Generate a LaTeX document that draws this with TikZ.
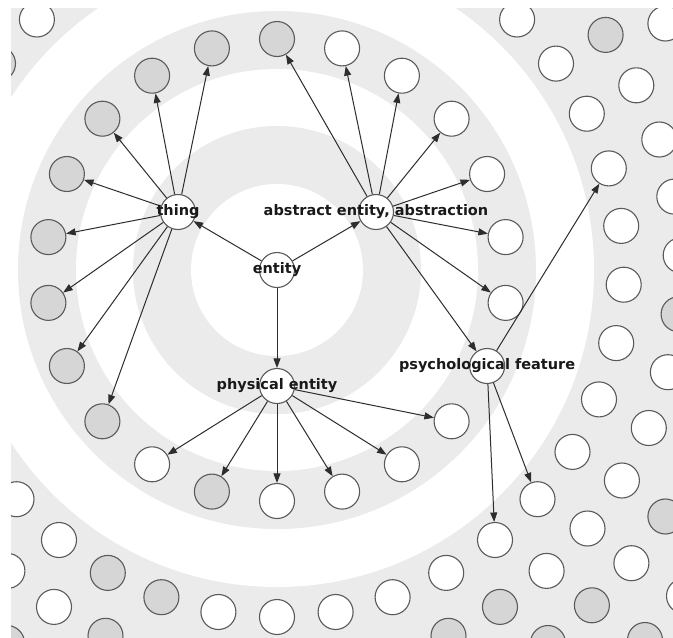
\documentclass[tikz,border=0pt]{standalone}
\usepackage{fontspec}
\setmainfont{DejaVu Sans}
\usetikzlibrary{arrows.meta}
\definecolor{ringgray}{RGB}{235,235,235}
\definecolor{nodegray}{RGB}{214,214,214}
\definecolor{nodeline}{RGB}{90,90,90}
\definecolor{edgeline}{RGB}{45,45,45}
\definecolor{labeltext}{RGB}{25,25,25}
\begin{document}
\begin{tikzpicture}[x=1pt,y=-1pt,
  leaf/.style={circle,draw=nodeline,line width=1.1pt,minimum size=35pt,inner sep=0pt},
  wn/.style={leaf,fill=white},
  gn/.style={leaf,fill=nodegray},
  edge/.style={draw=edgeline,line width=1pt,-{Triangle[length=9.5pt,width=7pt]}},
  lbl/.style={font=\bfseries\fontsize{14.5}{16}\selectfont,text=labeltext,inner sep=0pt}]
\useasboundingbox (0,0) rectangle (673,638);
\begin{scope}
\clip (11,8) rectangle (673,638);
% background rings
\fill[ringgray] (11,8) rectangle (673,638);
\fill[white] (277,270) circle[radius=317];
\fill[ringgray] (277,270) circle[radius=259];
\fill[white] (277,270) circle[radius=201];
\fill[ringgray] (277,270) circle[radius=144];
\fill[white] (277,270) circle[radius=86];
% depth 0 and 1
\node[wn] (entity) at (277,270) {};
\node[wn] (thing) at (178,212) {};
\node[wn] (abstract) at (376,212) {};
\node[wn] (physical) at (277,386) {};
% depth 2
\node[gn] (d0) at (277,39) {};
\node[wn] (d1) at (342.1,48.4) {};
\node[wn] (d2) at (401.9,75.7) {};
\node[wn] (d3) at (451.6,118.7) {};
\node[wn] (d4) at (487.1,174.0) {};
\node[wn] (d5) at (505.6,237.1) {};
\node[wn] (d6) at (505.6,302.9) {};
\node[wn] (psych) at (487.1,366.0) {};
\node[wn] (d8) at (451.6,421.3) {};
\node[wn] (d9) at (401.9,464.3) {};
\node[wn] (d10) at (342.1,491.6) {};
\node[wn] (d11) at (277,501) {};
\node[gn] (d12) at (211.9,491.6) {};
\node[wn] (d13) at (152.1,464.3) {};
\node[gn] (d14) at (102.4,421.3) {};
\node[gn] (d15) at (66.9,366.0) {};
\node[gn] (d16) at (48.4,302.9) {};
\node[gn] (d17) at (48.4,237.1) {};
\node[gn] (d18) at (66.9,174.0) {};
\node[gn] (d19) at (102.4,118.7) {};
\node[gn] (d20) at (152.1,75.7) {};
\node[gn] (d21) at (211.9,48.4) {};
% ring 3
\node[wn] (am5) at (16.5,499.2) {};
\node[wn] (am4) at (59.0,540.0) {};
\node[gn] (am3) at (107.8,572.9) {};
\node[gn] (am2) at (161.4,597.2) {};
\node[wn] (am1) at (218.4,612.0) {};
\node[wn] (a0) at (277,617) {};
\node[wn] (a1) at (335.6,612.0) {};
\node[wn] (a2) at (392.6,597.2) {};
\node[wn] (a3) at (446.2,572.9) {};
\node[wn] (a4) at (495.0,540.0) {};
\node[wn] (a5) at (537.5,499.2) {};
\node[wn] (a6) at (572.5,451.9) {};
\node[wn] (a7) at (599.0,399.4) {};
\node[wn] (a8) at (616.2,343.1) {};
\node[wn] (a9) at (623.7,284.7) {};
\node[wn] (a10) at (621.2,225.9) {};
\node[wn] (a11) at (608.8,168.4) {};
\node[wn] (a12) at (586.8,113.7) {};
\node[wn] (a13) at (556.0,63.6) {};
\node[wn] (a14) at (517.1,19.5) {};
\node[wn] (a23) at (36.9,19.5) {};
\node[gn] (a24) at (-2.0,63.6) {};
% ring 4
\node[gn] (b15) at (605.6,34.9) {};
\node[wn] (b14) at (636.3,85.3) {};
\node[wn] (b13) at (659.3,139.5) {};
\node[wn] (b12) at (674.3,196.6) {};
\node[wn] (b11) at (680.7,255.3) {};
\node[gn] (b10) at (678.6,314.2) {};
\node[wn] (b9) at (667.9,372.2) {};
\node[wn] (b8) at (648.8,428.0) {};
\node[wn] (b7) at (621.9,480.5) {};
\node[wn] (b6) at (587.5,528.5) {};
\node[wn] (b5) at (546.6,570.9) {};
\node[gn] (b4) at (500.0,606.9) {};
\node[gn] (b3) at (448.5,635.8) {};
\node[gn] (bm3) at (105.5,635.8) {};
\node[wn] (bm4) at (54.0,606.9) {};
\node[wn] (bm5) at (7.4,570.9) {};
% ring 5 and 6
\node[gn] (c5) at (548,643) {};
\node[gn] (c6) at (591.9,605.3) {};
\node[wn] (c7) at (631.4,563.2) {};
\node[gn] (c8) at (665.4,516.5) {};
\node[wn] (c17) at (665.4,23.5) {};
\node[gn] (cm5) at (7,643) {};
\node[wn] (e1) at (684,596) {};
\node[gn] (e2) at (645,640) {};
% edges
\draw[edge] (entity) -- (thing);
\draw[edge] (entity) -- (abstract);
\draw[edge] (entity) -- (physical);
\foreach \n in {d14,d15,d16,d17,d18,d19,d20,d21} \draw[edge] (thing) -- (\n);
\foreach \n in {d0,d1,d2,d3,d4,d5,d6,psych} \draw[edge] (abstract) -- (\n);
\foreach \n in {d8,d9,d10,d11,d12,d13} \draw[edge] (physical) -- (\n);
\foreach \n in {a4,a5,a11} \draw[edge] (psych) -- (\n);
% labels
\node[lbl] (entity-t) at (entity) {entity};
\node[lbl] (thing-t) at (thing) {thing};
\node[lbl] (abstract-t) at (abstract) {abstract entity, abstraction};
\node[lbl] (physical-t) at (physical) {physical entity};
\node[lbl] (psych-t) at (psych) {psychological feature};
\end{scope}
\end{tikzpicture}
\end{document}
